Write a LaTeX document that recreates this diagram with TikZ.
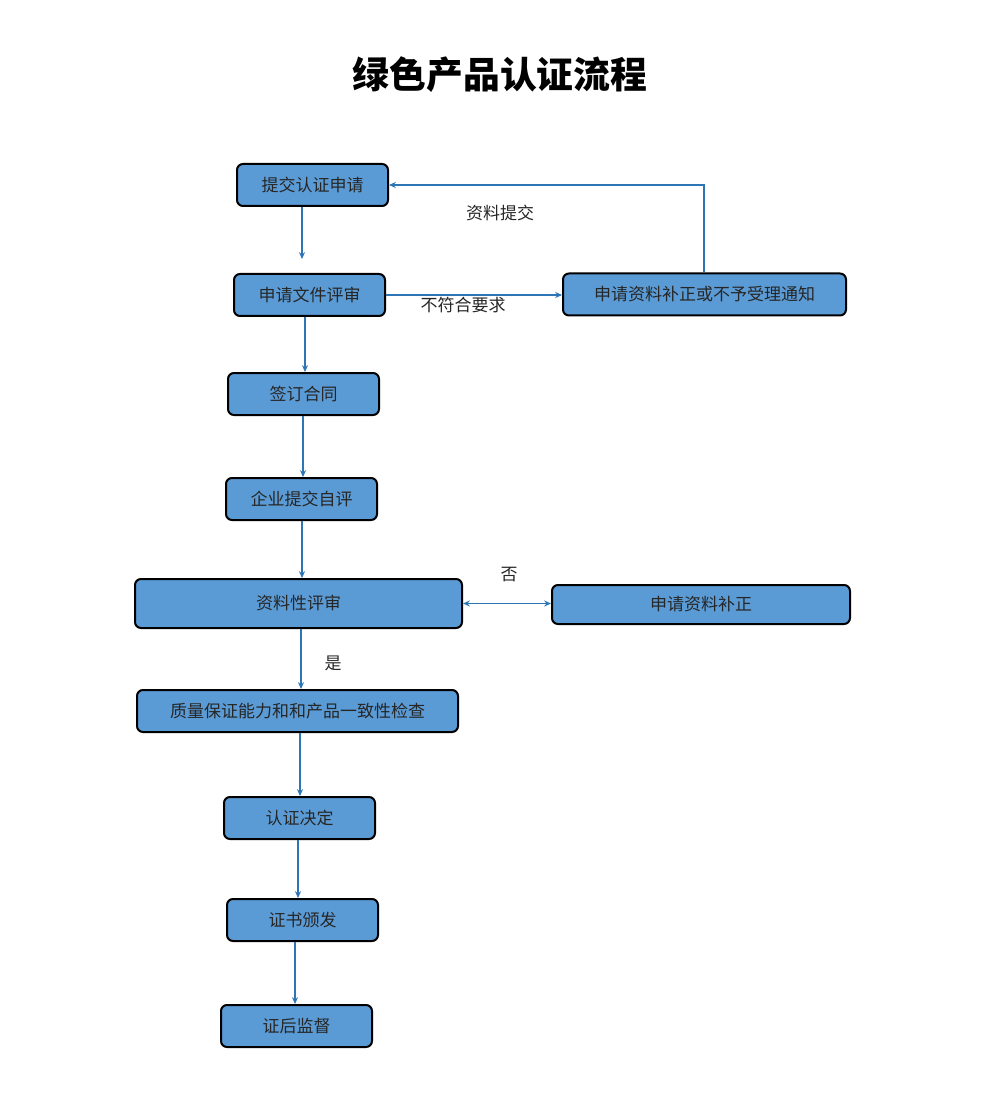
\documentclass[tikz,border=0pt]{standalone}
\usepackage{fontspec}
\newfontfamily\cjk{Noto Sans CJK SC}
\usetikzlibrary{arrows.meta}
\definecolor{boxfill}{HTML}{5B9BD5}
\definecolor{linecol}{HTML}{2E75B6}
\tikzset{
  box/.style={draw=black, line width=1pt, fill=boxfill, rounded corners=3pt,
    minimum height=21pt, inner sep=0pt, font=\cjk\fontsize{8.5pt}{10pt}\selectfont, text=black!85},
  conn/.style={draw=linecol, line width=0.9pt, -{Stealth[length=3.4pt,width=3pt]}},
  lbl/.style={font=\cjk\fontsize{8.5pt}{10pt}\selectfont, inner sep=0pt, text=black!85}
}
\begin{document}
\begin{tikzpicture}[x=0.5pt,y=-0.5pt]
\useasboundingbox[fill=white] (0,0) rectangle (1000,1096);
\node[font=\cjk\bfseries\fontsize{18.4pt}{22pt}\selectfont] (title) at (500,75) {绿色产品认证流程};

\node[box, minimum width=75.5pt] (n1) at (312.5,185) {提交认证申请};
\node[box, minimum width=75.5pt] (n2) at (309.5,295) {申请文件评审};
\node[box, minimum width=141.5pt] (n3) at (704.5,294.5) {申请资料补正或不予受理通知};
\node[box, minimum width=75.5pt] (n4) at (303.5,394) {签订合同};
\node[box, minimum width=75.5pt] (n5) at (301.5,499) {企业提交自评};
\node[box, minimum width=163.5pt, minimum height=24.5pt] (n6) at (298.5,603.5) {\raisebox{1.2pt}{资料性评审}};
\node[box, minimum width=149pt, minimum height=19.5pt] (n7) at (701,604.5) {申请资料补正};
\node[box, minimum width=160.5pt] (n8) at (297.5,711) {质量保证能力和和产品一致性检查};
\node[box, minimum width=75.5pt] (n9) at (299.5,818) {认证决定};
\node[box, minimum width=75.5pt] (n10) at (302.5,920) {证书颁发};
\node[box, minimum width=75.5pt] (n11) at (296.5,1026) {证后监督};

\coordinate (x12) at (302,0);
\coordinate (e1) at (302,259);
\coordinate (x24) at (305,0);
\coordinate (x45) at (303,0);
\coordinate (x56) at (302,0);
\coordinate (x68) at (301,0);
\coordinate (x89) at (300,0);
\coordinate (x910) at (298,0);
\coordinate (x1011) at (295,0);
\coordinate (x31) at (704,0);

\draw[conn] (n1.south -| x12) -- (e1);
\draw[conn] (n2.south -| x24) -- (n4.north -| x24);
\draw[conn] (n4.south -| x45) -- (n5.north -| x45);
\draw[conn] (n5.south -| x56) -- (n6.north -| x56);
\draw[conn] (n6.south -| x68) -- (n8.north -| x68);
\draw[conn] (n8.south -| x89) -- (n9.north -| x89);
\draw[conn] (n9.south -| x910) -- (n10.north -| x910);
\draw[conn] (n10.south -| x1011) -- (n11.north -| x1011);
\draw[conn] (n2.east) -- (n3.west |- n2.east);
\draw[conn] (n3.north -| x31) |- (n1.east);
\draw[conn, {Stealth[length=3.4pt,width=3pt]}-{Stealth[length=3.4pt,width=3pt]}] (n6.east) -- (n7.west |- n6.east);

\node[lbl] (l1) at (500,213) {资料提交};
\node[lbl] (l2) at (463,305) {不符合要求};
\node[lbl] (l3) at (509,575) {否};
\node[lbl] (l4) at (333,663) {是};
\end{tikzpicture}
\end{document}
